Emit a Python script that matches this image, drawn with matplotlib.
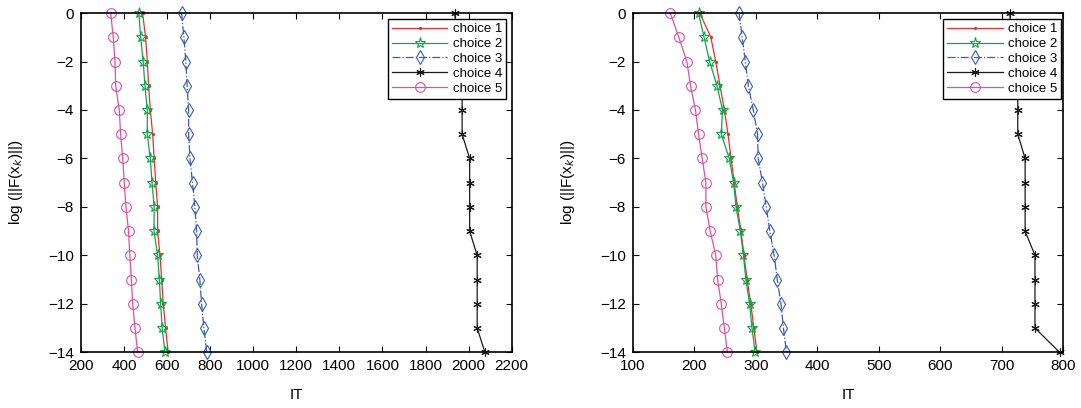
import matplotlib
matplotlib.use('Agg')
import matplotlib.pyplot as plt

plt.rcParams['font.family'] = ['Liberation Sans', 'DejaVu Sans']

# log(||F(x_k)||) levels, one point per level
levels = [0, -1, -2, -3, -4, -5, -6, -7, -8, -9, -10, -11, -12, -13, -14]
labels = ['choice 1', 'choice 2', 'choice 3', 'choice 4', 'choice 5']

# left panel: IT for each choice
left_c1 = [486, 500, 508, 514, 522, 533, 540, 547, 556, 556, 567, 575, 582, 593, 605]
left_c2 = [469, 477, 489, 497, 508, 508, 522, 530, 540, 539, 556, 564, 570, 577, 590]
left_c3 = [667, 678, 687, 693, 700, 700, 706, 718, 729, 737, 740, 752, 760, 771, 784]
left_c4 = [1935, 1950, 1960, 1970, 1970, 1970, 2005, 2005, 2005, 2005, 2040, 2040, 2040, 2040, 2076]
left_c5 = [338, 350, 358, 361, 378, 384, 394, 401, 409, 421, 427, 434, 440, 451, 463]

# right panel: IT for each choice
right_c1 = [209, 227, 235, 242, 249, 255, 260, 265, 270, 276, 281, 286, 292, 297, 302]
right_c2 = [207, 216, 225, 237, 246, 244, 257, 264, 268, 275, 280, 284, 290, 294, 299]
right_c3 = [273, 278, 283, 288, 296, 303, 304, 311, 317, 323, 330, 335, 341, 345, 350]
right_c4 = [713, 716, 720, 726, 726, 726, 738, 738, 738, 738, 754, 754, 754, 754, 794]
right_c5 = [161, 175, 188, 194, 202, 207, 213, 219, 219, 226, 235, 238, 244, 249, 254]

left_xticks = list(range(200, 2201, 200))
right_xticks = list(range(100, 801, 100))
yticks = [0, -2, -4, -6, -8, -10, -12, -14]

styles = [
    dict(color='#ee2c2c', linestyle='-', marker='.', markersize=3),
    dict(color='#0ea54c', linestyle='-', marker='*', markersize=8, markerfacecolor='none'),
    dict(color='#3d5bb0', linestyle='-.', marker='d', markersize=7, markerfacecolor='none'),
    dict(color='#1a1a1a', linestyle='-', marker=(6, 2, 0), markersize=6),
    dict(color='#e0509c', linestyle='-', marker='o', markersize=7, markerfacecolor='none'),
]


def draw_panel(ax, series, xlim, xticks, legend_anchor):
    for vals, lab, st in zip(series, labels, styles):
        ax.plot(vals, levels, label=lab, linewidth=0.9, markeredgewidth=0.8, clip_on=False, **st)
    ax.set_xlim(*xlim)
    ax.set_ylim(-14, 0)
    ax.set_xticks(xticks)
    ax.set_yticks(yticks)
    ax.tick_params(direction='in', top=True, right=True, labelsize=11, length=4, width=0.8, pad=5)
    for sp in ax.spines.values():
        sp.set_linewidth(1.2)
    ax.set_xlabel('IT', fontsize=11)
    ax.set_ylabel(r'log (||F(x$_k$)||)', fontsize=11)
    ax.xaxis.set_label_coords(0.5, -0.105)
    ax.yaxis.set_label_coords(-0.13, 0.5)
    leg = ax.legend(loc='upper right', bbox_to_anchor=legend_anchor, fontsize=9.5,
                    fancybox=False, edgecolor='black', framealpha=1,
                    handlelength=4.2, labelspacing=0.2, borderpad=0.3, handletextpad=0.4,
                    borderaxespad=0)
    leg.get_frame().set_linewidth(1.0)
    leg.set_zorder(5)


fig = plt.figure(figsize=(10.81, 4.08), dpi=100)
ax1 = fig.add_axes([0.0749, 0.1365, 0.3984, 0.8315])
ax2 = fig.add_axes([0.5853, 0.1365, 0.3983, 0.8315])

draw_panel(ax1, [left_c1, left_c2, left_c3, left_c4, left_c5], (200, 2200), left_xticks, (0.987, 0.982))
draw_panel(ax2, [right_c1, right_c2, right_c3, right_c4, right_c5], (100, 800), right_xticks, (0.995, 0.982))

fig.savefig('out.png', dpi=100)
